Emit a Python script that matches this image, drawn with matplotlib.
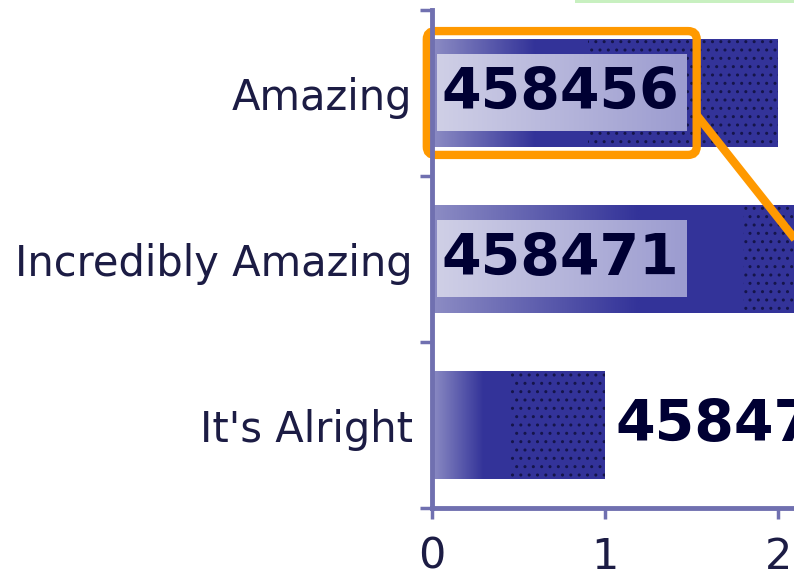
import matplotlib
matplotlib.use("Agg")
import matplotlib.pyplot as plt
import numpy as np
from matplotlib.colors import to_rgb
from matplotlib.patches import FancyBboxPatch, Rectangle

categories = ['Amazing', 'Incredibly Amazing', "It's Alright"]
values = [2, 4, 1]
bar_labels = ['458456', '458471', '458473']
xticks = [0, 1, 2]

bar_color = '#333399'
bar_light = '#8c8cc4'
axis_color = '#7070b0'
text_color = '#1c1c44'
num_color = '#000033'
orange = '#ff9900'


def hgrad(c0, c1, n=64):
    a, b = np.array(to_rgb(c0)), np.array(to_rgb(c1))
    g = np.linspace(0, 1, n)[:, None]
    return (a * (1 - g) + b * g)[None, :, :]


fig = plt.figure(figsize=(7.94, 5.77), dpi=100)
ax = fig.add_axes([432 / 794, 69 / 577, 1 - 432 / 794, 498 / 577])

bar_h = 0.65
box_w, box_h = 1.44, 0.46

for i, (v, lab) in enumerate(zip(values, bar_labels)):
    top, bot = i - bar_h / 2, i + bar_h / 2
    ax.barh(i, v, height=bar_h, color=bar_color, zorder=2)
    # light-to-dark shading at the start of each bar
    ax.imshow(hgrad(bar_light, bar_color), extent=[0, 0.3 * v, bot, top],
              aspect='auto', interpolation='bilinear', zorder=3)
    # dotted texture on the rest
    ax.barh(i, 0.55 * v, left=0.45 * v, height=bar_h, color='none',
            edgecolor='#15154a', hatch='..', lw=0, zorder=3)
    if v >= 1.5:
        ax.imshow(hgrad('#cfcfe6', '#9c9cd0'),
                  extent=[0.03, 0.03 + box_w, i + box_h / 2, i - box_h / 2],
                  aspect='auto', interpolation='bilinear', zorder=4)
        ax.text(0.055, i, lab, ha='left', va='center', fontsize=41,
                fontweight='bold', color=num_color, zorder=5)
    else:
        ax.text(v + 0.06, i, lab, ha='left', va='center', fontsize=41,
                fontweight='bold', color=num_color, zorder=5)

# highlight around the first value
ax.add_patch(FancyBboxPatch((-0.03, -0.373), 1.56, 0.746,
                            boxstyle='round,pad=0,rounding_size=0.05',
                            fill=False, ec=orange, lw=6, zorder=6, clip_on=False))
ax.plot([1.53, 2.6], [0.133, 1.54], color=orange, lw=6,
        solid_capstyle='butt', clip_on=False, zorder=6)

ax.set_xlim(0, 362 / 173)
ax.set_ylim(2.5, -0.5)

for s in ['top', 'right']:
    ax.spines[s].set_visible(False)
for s in ['left', 'bottom']:
    ax.spines[s].set_color(axis_color)
    ax.spines[s].set_linewidth(3.5)
    ax.spines[s].set_zorder(7)

ax.set_yticks(range(len(categories)))
ax.set_yticklabels(categories)
ax.set_yticks(np.arange(-0.5, len(categories)), minor=True)
ax.tick_params(axis='y', which='major', length=0, pad=14,
               labelsize=30, labelcolor=text_color)
ax.tick_params(axis='y', which='minor', length=9, width=2.5, color=axis_color)
ax.set_xticks(xticks)
ax.tick_params(axis='x', which='major', length=8, width=2.5, color=axis_color,
               pad=12, labelsize=31, labelcolor=text_color)

fig.add_artist(Rectangle((575 / 794, 1 - 3 / 577), 1, 3 / 577,
                         transform=fig.transFigure, color='#c8f0c0', lw=0))

fig.savefig('out.png', dpi=100)
